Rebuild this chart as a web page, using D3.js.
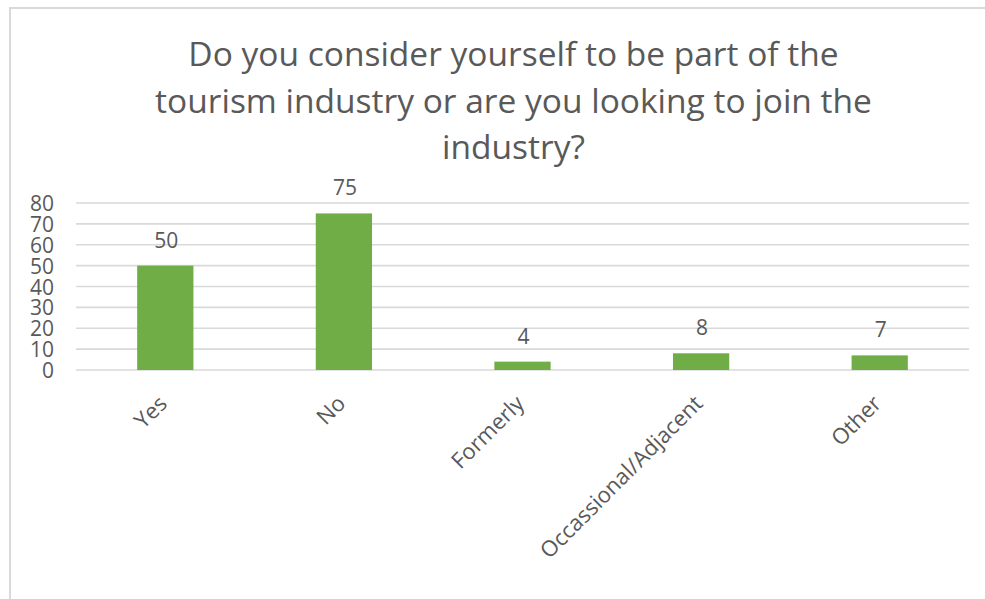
<!DOCTYPE html>
<html>
<head>
<meta charset="utf-8">
<script src="https://cdn.jsdelivr.net/npm/d3@7"></script>
<style>
  html, body { margin: 0; padding: 0; background: #ffffff; }
  svg { display: block; }
  text { font-family: "Open Sans", "Noto Sans", sans-serif; fill: #595959; }
</style>
</head>
<body>
<svg id="chart" width="985" height="599"></svg>
<script>
const titleLines = ["Do you consider yourself to be part of the", "tourism industry or are you looking to join the", "industry?"];
const categories = ["Yes", "No", "Formerly", "Occassional/Adjacent", "Other"];
const values = [50, 75, 4, 8, 7];
const yTicks = [0, 10, 20, 30, 40, 50, 60, 70, 80];

const svg = d3.select("#chart");
const W = 985, H = 599;
const margin = { left: 76, right: 16, top: 203, bottom: 229 };

// chart frame
svg.append("rect")
  .attr("x", 10).attr("y", 8)
  .attr("width", W + 20).attr("height", H + 20)
  .attr("fill", "#fff").attr("stroke", "#d9d9d9").attr("stroke-width", 2);

// title
const title = svg.append("text")
  .attr("text-anchor", "middle")
  .style("font-size", "33.5px");
title.selectAll("tspan").data(titleLines).join("tspan")
  .attr("x", 513.5)
  .attr("y", (d, i) => 66 + i * 46.5)
  .text(d => d);

const x = d3.scaleBand()
  .domain(categories)
  .range([margin.left, W - margin.right])
  .paddingInner(0)
  .paddingOuter(0);

const y = d3.scaleLinear()
  .domain([0, 80])
  .range([H - margin.bottom, margin.top]);

// gridlines
svg.append("g")
  .selectAll("line").data(yTicks).join("line")
  .attr("x1", margin.left).attr("x2", W - margin.right)
  .attr("y1", d => y(d)).attr("y2", d => y(d))
  .attr("stroke", "#d9d9d9").attr("stroke-width", 1.6);

// y axis labels
const yAxis = svg.append("g")
  .attr("transform", `translate(${margin.left - 22},0)`)
  .call(d3.axisLeft(y).tickValues(yTicks).tickSize(0).tickPadding(0));
yAxis.select(".domain").remove();
yAxis.selectAll("text")
  .style("font-size", "21px")
  .style("font-family", "'Open Sans', sans-serif")
  .attr("fill", "#595959")
  .attr("dy", "0.36em");

// bars
const barW = x.bandwidth() * 0.315;
svg.append("g")
  .selectAll("rect").data(categories).join("rect")
  .attr("x", (d) => x(d) + x.bandwidth() / 2 - barW / 2)
  .attr("y", (d, i) => y(values[i]))
  .attr("width", barW)
  .attr("height", (d, i) => y(0) - y(values[i]))
  .attr("fill", "#70ad47");

// value labels
svg.append("g")
  .selectAll("text").data(categories).join("text")
  .attr("text-anchor", "middle")
  .attr("x", d => x(d) + x.bandwidth() / 2 + 1)
  .attr("y", (d, i) => y(values[i]) - 18)
  .style("font-size", "21px")
  .text((d, i) => values[i]);

// x axis labels
const xAxis = svg.append("g")
  .attr("transform", `translate(0,${y(0)})`)
  .call(d3.axisBottom(x).tickSize(0).tickPadding(0));
xAxis.select(".domain").remove();
xAxis.selectAll("text")
  .style("font-size", "22px")
  .style("font-family", "'Open Sans', sans-serif")
  .attr("fill", "#595959")
  .attr("text-anchor", "end")
  .attr("dy", null)
  .attr("y", 0)
  .attr("transform", "translate(3,35) rotate(-45)");
</script>
</body>
</html>
